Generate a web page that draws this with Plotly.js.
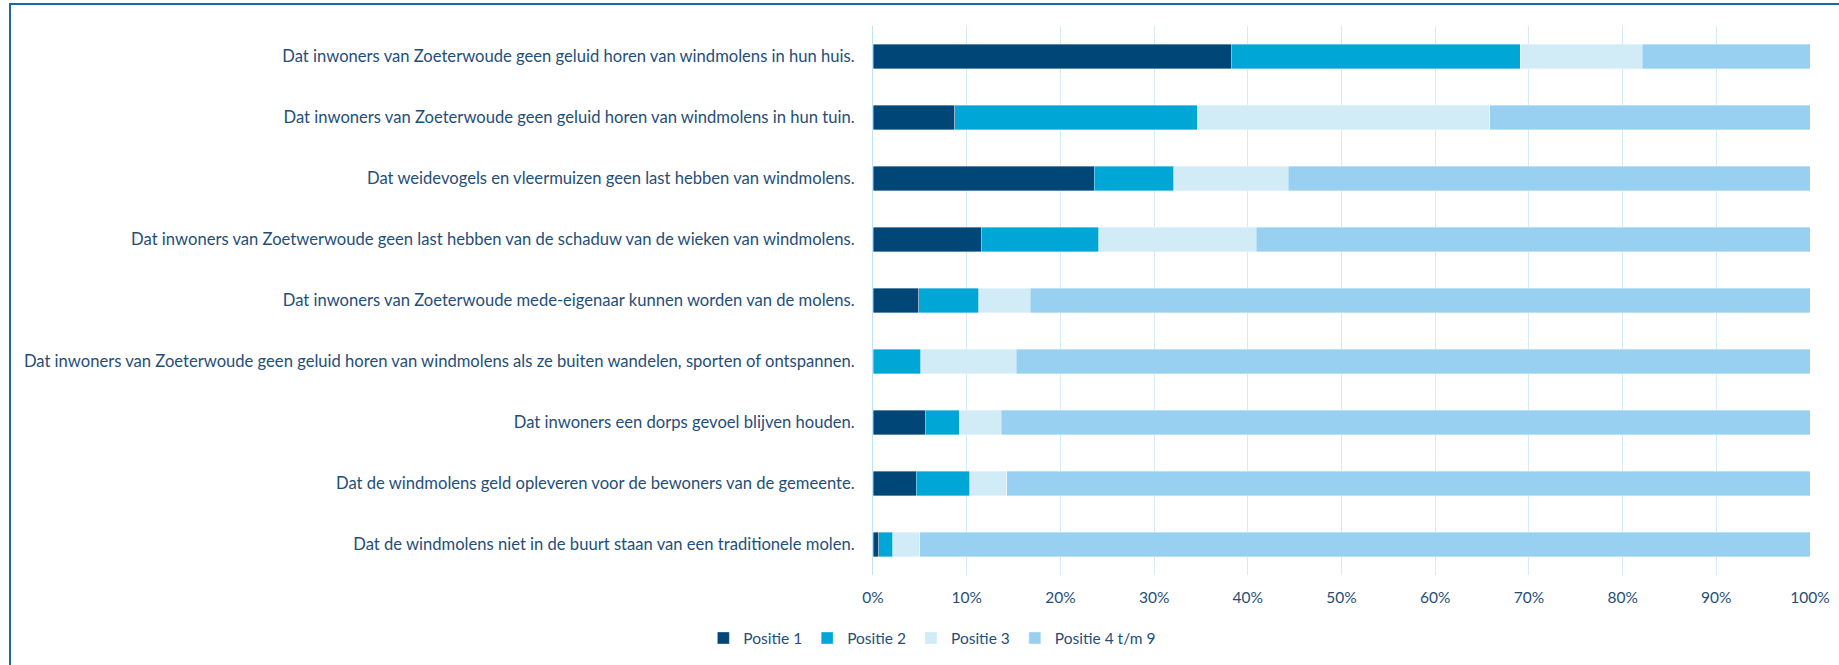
<!DOCTYPE html>
<html>
<head>
<meta charset="utf-8">
<script src="https://cdn.plot.ly/plotly-3.0.1.min.js"></script>
<style>
  html, body { margin: 0; padding: 0; background: #ffffff; }
  #chart { width: 1839px; height: 665px; }
  #frame { position: absolute; left: 9px; top: 3px; width: 1840px; height: 700px;
           border-left: 2px solid #1a6aa8; border-top: 2px solid #1a6aa8; pointer-events: none; }
</style>
</head>
<body>
<div id="chart"></div>
<div id="frame"></div>
<script>
const categories = [
  "Dat inwoners van Zoeterwoude geen geluid horen van windmolens in hun huis.",
  "Dat inwoners van Zoeterwoude geen geluid horen van windmolens in hun tuin.",
  "Dat weidevogels en vleermuizen geen last hebben van windmolens.",
  "Dat inwoners van Zoetwerwoude geen last hebben van de schaduw van de wieken van windmolens.",
  "Dat inwoners van Zoeterwoude mede-eigenaar kunnen worden van de molens.",
  "Dat inwoners van Zoeterwoude geen geluid horen van windmolens als ze buiten wandelen, sporten of ontspannen.",
  "Dat inwoners een dorps gevoel blijven houden.",
  "Dat de windmolens geld opleveren voor de bewoners van de gemeente.",
  "Dat de windmolens niet in de buurt staan van een traditionele molen."
];
const seriesNames = ["Positie 1", "Positie 2", "Positie 3", "Positie 4 t/m 9"];
const positie1 = [38.3, 8.7, 23.6, 11.6, 4.9, 0.0, 5.6, 4.6, 0.6];
const positie2 = [30.8, 25.9, 8.5, 12.5, 6.4, 5.1, 3.6, 5.7, 1.5];
const positie3 = [13.0, 31.2, 12.2, 16.8, 5.5, 10.2, 4.5, 4.0, 2.9];
const positie4 = [17.9, 34.2, 55.7, 59.1, 83.2, 84.7, 86.3, 85.7, 95.0];
const tickVals = [0, 10, 20, 30, 40, 50, 60, 70, 80, 90, 100];
const tickLabels = ["0%", "10%", "20%", "30%", "40%", "50%", "60%", "70%", "80%", "90%", "100%"];

const colors = ["#004677", "#00a6d6", "#d1ecf7", "#97d0f0"];
const values = [positie1, positie2, positie3, positie4];
const textColor = "#1f4e79";
const fontFamily = "Lato, 'Noto Sans', sans-serif";

const traces = values.map((v, i) => ({
  type: "bar",
  orientation: "h",
  name: seriesNames[i],
  x: v,
  y: categories,
  width: 0.4,
  marker: { color: colors[i], line: { color: "rgba(255,255,255,0.6)", width: 0.6 } },
  hoverinfo: "x+name"
}));

const layout = {
  width: 1839,
  height: 665,
  barmode: "stack",
  paper_bgcolor: "#ffffff",
  plot_bgcolor: "#ffffff",
  margin: { l: 873, r: 29, t: 26, b: 90, pad: 0 },
  font: { family: fontFamily, color: textColor, size: 15 },
  xaxis: {
    range: [0, 100],
    tickvals: tickVals,
    ticktext: tickLabels,
    showgrid: true,
    gridcolor: "#d5ecf7",
    gridwidth: 1,
    zeroline: false,
    showline: false,
    ticks: "outside",
    ticklen: 8,
    tickcolor: "rgba(0,0,0,0)",
    tickfont: { size: 15.5, color: textColor, family: fontFamily },
    fixedrange: true
  },
  yaxis: {
    type: "category",
    autorange: "reversed",
    showgrid: false,
    zeroline: false,
    showline: true,
    linecolor: "#bfe3f4",
    linewidth: 1,
    ticks: "outside",
    ticklen: 14,
    tickcolor: "rgba(0,0,0,0)",
    tickfont: { size: 16.6, color: textColor, family: fontFamily },
    fixedrange: true
  },
  legend: {
    orientation: "h",
    xref: "container",
    yref: "container",
    x: 0.507,
    xanchor: "center",
    y: 0.04,
    yanchor: "middle",
    traceorder: "normal",
    font: { size: 15.5, color: textColor, family: fontFamily },
    itemwidth: 30
  },
  showlegend: true
};

Plotly.newPlot("chart", traces, layout, { displayModeBar: false, staticPlot: true });
</script>
</body>
</html>
